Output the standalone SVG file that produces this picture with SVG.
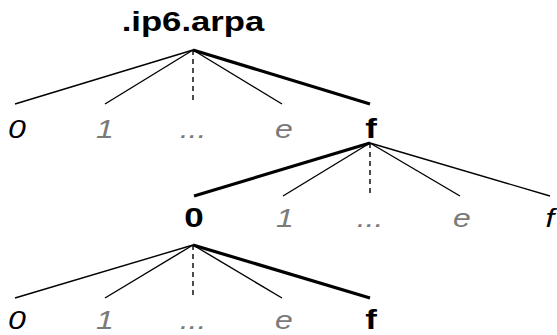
<svg xmlns="http://www.w3.org/2000/svg" width="557" height="335" viewBox="0 0 557 335">
<style>
.ln{stroke:#000;stroke-width:1.4;fill:none}
.tk{stroke:#000;stroke-width:3.2;fill:none}
.ds{stroke:#000;stroke-width:1.4;stroke-dasharray:5,4;fill:none}
text{font-family:"Liberation Sans",Arial,sans-serif;text-anchor:middle}
.it{font-style:italic;font-size:25px;fill:#000}
.gr{fill:#7a7a7a}
.bd{font-weight:bold;font-size:28px;fill:#000}
.tt{font-weight:bold;font-size:28px;fill:#000}
</style>
<rect width="557" height="335" fill="#fff"/>
<g id="connectors">
<path class="ln" d="M193 50 L15 104"/>
<path class="ln" d="M193 50 L105 104"/>
<path class="ds" d="M193 50 L193 104"/>
<path class="ln" d="M193 50 L282 104"/>
<path class="tk" d="M193 50 L370 104"/>
<path class="tk" d="M370 143 L194 196"/>
<path class="ln" d="M370 143 L283 196"/>
<path class="ds" d="M370 143 L370 196"/>
<path class="ln" d="M370 143 L460 196"/>
<path class="ln" d="M370 143 L550 196"/>
<path class="ln" d="M193 245 L15 298"/>
<path class="ln" d="M193 245 L105 298"/>
<path class="ds" d="M193 245 L193 298"/>
<path class="ln" d="M193 245 L282 298"/>
<path class="tk" d="M193 245 L370 298"/>
</g>
<g id="root"><text class="tt" transform="translate(193,31) scale(1.24,1)">.ip6.arpa</text></g>
<g id="r1-0"><text class="it" transform="translate(17,138) scale(1.28,1)">0</text></g>
<g id="r1-1"><text class="it gr" transform="translate(105,138) scale(1.28,1)">1</text></g>
<g id="r1-dots"><text class="it gr" transform="translate(193,138) scale(1.28,1)">...</text></g>
<g id="r1-e"><text class="it gr" transform="translate(284,138) scale(1.28,1)">e</text></g>
<g id="r1-f"><text class="bd" transform="translate(371,138) scale(1.25,1)">f</text></g>
<g id="r2-0"><text class="bd" transform="translate(194,227) scale(1.25,1)">0</text></g>
<g id="r2-1"><text class="it gr" transform="translate(285,227) scale(1.28,1)">1</text></g>
<g id="r2-dots"><text class="it gr" transform="translate(370,227) scale(1.28,1)">...</text></g>
<g id="r2-e"><text class="it gr" transform="translate(462,227) scale(1.28,1)">e</text></g>
<g id="r2-f"><text class="it" transform="translate(550,227) scale(1.28,1)">f</text></g>
<g id="r3-0"><text class="it" transform="translate(17,329) scale(1.28,1)">0</text></g>
<g id="r3-1"><text class="it gr" transform="translate(105,329) scale(1.28,1)">1</text></g>
<g id="r3-dots"><text class="it gr" transform="translate(193,329) scale(1.28,1)">...</text></g>
<g id="r3-e"><text class="it gr" transform="translate(284,329) scale(1.28,1)">e</text></g>
<g id="r3-f"><text class="bd" transform="translate(371,329) scale(1.25,1)">f</text></g>
</svg>
